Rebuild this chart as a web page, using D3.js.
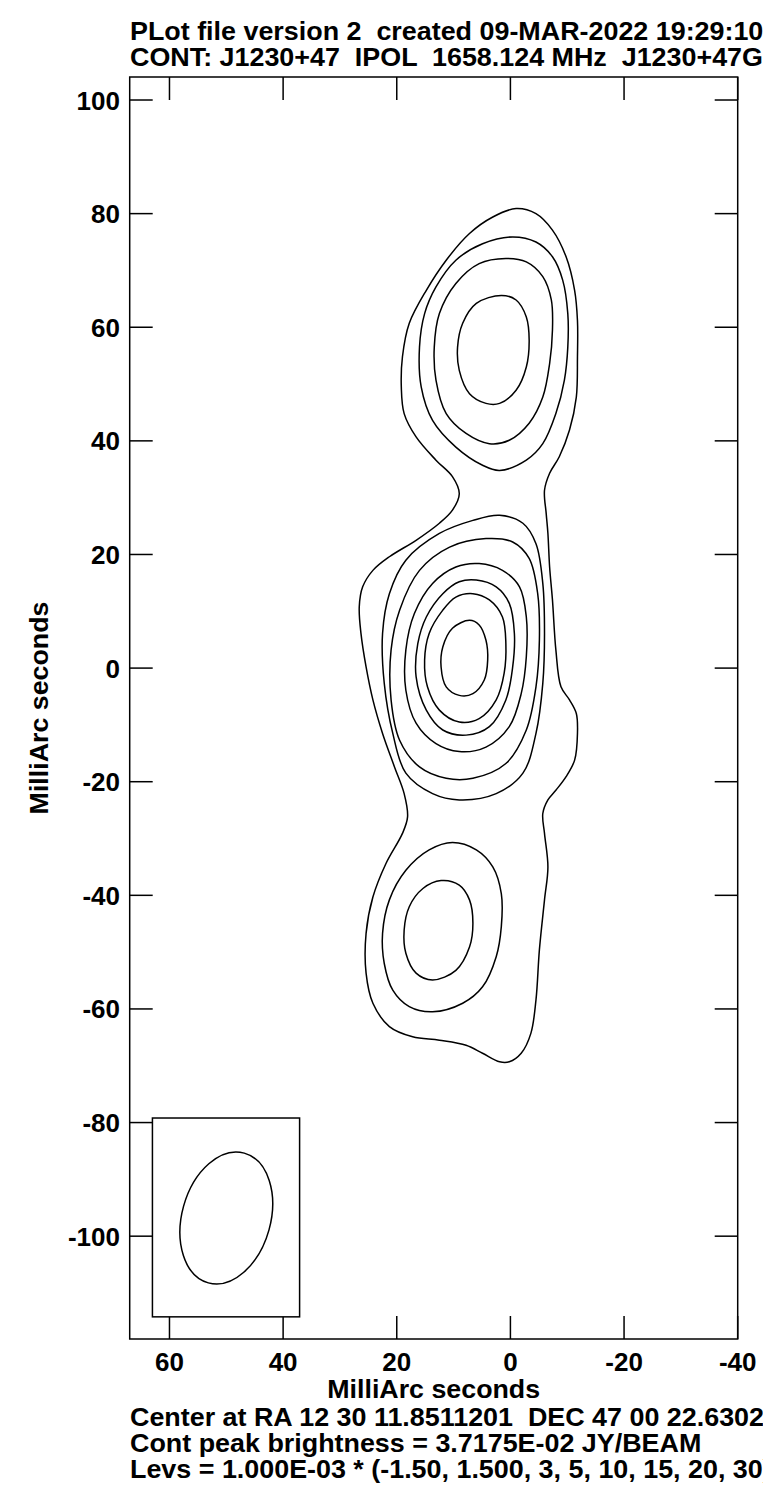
<!DOCTYPE html>
<html>
<head>
<meta charset="utf-8">
<script src="https://cdn.jsdelivr.net/npm/d3@7"></script>
<style>
  html, body { margin: 0; padding: 0; background: #fff; }
  svg text { font-family: "Liberation Sans", Arial, sans-serif; font-weight: bold; fill: #000; white-space: pre; }
</style>
</head>
<body>
<div id="chart"></div>
<script>
// ---------- data (milliarcseconds, RA offset increases to the left) ----------
const titleLines = [
  "PLot file version 2  created 09-MAR-2022 19:29:10",
  "CONT: J1230+47  IPOL  1658.124 MHz  J1230+47G"
];
const footerLines = [
  "Center at RA 12 30 11.8511201  DEC 47 00 22.6302",
  "Cont peak brightness = 3.7175E-02 JY/BEAM",
  "Levs = 1.000E-03 * (-1.50, 1.500, 3, 5, 10, 15, 20, 30)"
];
const axisLabel = "MilliArc seconds";
const xDomain = [67.0, -40.0];
const yDomain = [-118.1, 104.05];
const xTicks = [60, 40, 20, 0, -20, -40];
const yTicks = [100, 80, 60, 40, 20, 0, -20, -40, -60, -80, -100];

// contour levels in mJy/beam
const levels = [-1.5, 1.5, 3, 5, 10, 15, 20, 30];

// traced contours [RA offset, Dec offset]
const envelope1p5 = [
  [-1.0,80.9],[-4.5,80.0],[-7.4,77.1],[-9.8,72.4],[-11.3,66.5],[-11.8,61.2],[-11.8,54.8],[-11.6,47.7],
  [-10.4,41.9],[-8.6,37.2],[-6.9,34.3],[-6.0,31.3],[-6.3,27.2],[-6.6,23.7],[-6.9,17.8],[-7.4,12.0],
  [-8.0,3.2],[-8.9,-3.3],[-10.4,-5.6],[-11.6,-8.0],[-11.8,-11.5],[-11.3,-16.2],[-9.8,-19.1],[-8.0,-21.5],
  [-6.6,-23.2],[-5.7,-25.6],[-6.0,-29.1],[-6.6,-35.0],[-6.0,-40.8],[-5.1,-49.6],[-4.5,-58.4],[-3.6,-64.3],
  [-1.9,-67.8],[0.2,-69.3],[1.9,-69.3],[4.9,-67.8],[7.8,-66.4],[12.5,-65.5],[17.2,-64.9],[21.3,-63.1],
  [24.2,-59.0],[25.4,-53.7],[25.4,-46.7],[24.2,-40.3],[21.9,-34.4],[19.0,-29.1],[18.1,-26.2],[18.7,-22.1],
  [20.4,-17.4],[22.5,-11.5],[24.2,-5.6],[25.4,0.2],[26.3,6.1],[26.6,10.8],[26.0,14.3],[24.2,17.2],
  [21.3,19.6],[16.6,22.5],[12.5,25.5],[10.2,27.8],[9.0,30.7],[10.2,33.7],[13.1,36.6],[16.6,40.7],
  [18.7,44.8],[19.2,49.5],[19.0,54.8],[17.8,60.7],[14.8,66.5],[11.3,71.8],[7.2,76.5],[3.1,79.4]
];
const north3 = [
  [-0.4,75.9],[-4.5,75.0],[-7.4,72.4],[-9.2,68.3],[-10.1,62.4],[-10.1,56.5],[-9.5,50.7],[-8.0,44.8],
  [-5.7,39.5],[-2.8,36.6],[1.9,34.8],[4.9,35.7],[9.6,38.9],[13.7,43.6],[15.7,49.5],[16.0,56.5],
  [15.1,62.4],[13.1,67.1],[9.6,71.8],[4.9,74.7]
];
const north5 = [
  [0.8,72.1],[-2.8,71.5],[-5.7,68.9],[-7.2,64.8],[-7.4,59.5],[-6.9,53.6],[-5.7,47.7],[-3.3,43.1],
  [0.2,40.1],[3.7,39.5],[7.8,41.3],[11.3,44.8],[13.1,50.7],[13.4,56.5],[12.5,62.4],[9.6,67.7],[5.5,71.2]
];
const north10 = [
  [1.6,65.6],[-1.0,64.8],[-2.8,61.8],[-3.3,57.7],[-2.8,53.0],[-1.0,48.9],[1.9,46.6],[4.3,46.6],
  [7.2,48.3],[9.0,52.4],[9.3,56.5],[8.4,60.7],[6.0,64.2]
];
const core3 = [
  [1.9,26.9],[-2.2,25.5],[-4.5,21.9],[-5.7,14.9],[-6.0,6.1],[-5.7,-2.7],[-4.5,-11.5],[-2.2,-18.5],
  [2.5,-22.1],[9.0,-23.2],[13.7,-22.1],[18.4,-18.5],[20.7,-11.5],[22.2,-2.7],[22.5,6.1],[21.3,13.1],
  [18.4,19.0],[12.5,23.7],[6.6,26.0]
];
const core5 = [
  [4.3,22.8],[-0.4,22.2],[-3.3,19.3],[-4.8,13.1],[-5.1,4.9],[-4.5,-3.3],[-2.8,-10.9],[0.8,-16.8],
  [6.6,-19.4],[11.3,-19.4],[16.0,-17.4],[19.5,-12.7],[21.0,-5.6],[21.0,3.2],[19.5,10.2],[16.0,17.2],[10.7,21.3]
];
const core10 = [
  [5.5,18.4],[1.4,17.2],[-1.6,14.3],[-2.8,9.0],[-2.8,2.0],[-1.9,-4.5],[0.2,-10.3],[4.3,-13.9],
  [9.0,-14.7],[13.1,-13.3],[16.6,-9.7],[18.4,-3.9],[18.4,3.2],[16.9,9.6],[13.7,14.9],[9.6,17.8]
];
const core15 = [
  [6.0,15.5],[2.5,14.3],[0.2,11.4],[-0.7,6.1],[-0.4,0.2],[0.8,-5.6],[3.7,-10.3],[7.8,-11.8],
  [11.9,-10.9],[14.8,-7.4],[16.6,-1.5],[16.3,4.3],[14.8,9.0],[11.9,13.1],[9.0,15.2]
];
const core20 = [
  [6.6,13.1],[3.7,12.0],[1.4,9.0],[0.8,4.3],[1.1,-0.9],[2.5,-5.6],[5.5,-8.9],[9.0,-9.5],
  [12.5,-7.4],[14.6,-3.3],[15.1,1.4],[14.3,6.1],[11.9,10.2],[9.6,12.5]
];
const core30 = [
  [7.2,8.4],[5.5,7.6],[4.3,4.9],[4.0,1.4],[4.6,-2.1],[6.6,-4.5],[9.0,-4.8],[11.3,-3.3],
  [12.2,0.2],[11.9,3.7],[10.2,7.0]
];
const south3 = [
  [10.2,-30.7],[6.0,-32.0],[3.1,-35.0],[1.6,-39.7],[1.6,-45.5],[2.5,-50.8],[4.9,-56.1],[8.4,-59.0],
  [13.7,-60.5],[17.8,-59.6],[20.7,-56.7],[22.2,-52.0],[22.5,-46.7],[21.3,-40.8],[18.4,-35.6],[14.3,-32.0]
];
const south5 = [
  [12.2,-37.4],[9.0,-38.2],[7.2,-40.8],[6.6,-44.9],[7.2,-49.1],[9.6,-53.2],[13.7,-54.9],[16.6,-53.7],
  [18.4,-50.2],[18.7,-46.1],[17.8,-42.0],[15.4,-38.8]
];
const contourSet = [envelope1p5, north3, north5, north10, core3, core5, core10, core15, core20, core30, south3, south5];

// restoring beam (FWHM, mas; PA deg east of north) and its box
const beamCenter = [50.0, -96.8];
const beamMajor = 23.7, beamMinor = 15.6, beamPA = -15.5;
const beamBoxX = [63.0, 37.1];
const beamBoxY = [-114.2, -79.2];

// ---------- drawing ----------
const W = 763, H = 1500;
const svg = d3.select("#chart").append("svg").attr("width", W).attr("height", H);
const x = d3.scaleLinear().domain(xDomain).range([129.7, 737.7]);
const y = d3.scaleLinear().domain(yDomain).range([1339, 77]);
const fs = 26, fsBlock = 25, tickLen = 23, sw = 1.5;

// horizontally widen text glyphs to match the plot font's wider set
function widen(sel, k) {
  sel.each(function () {
    const len = this.getComputedTextLength();
    d3.select(this).attr("textLength", len * k).attr("lengthAdjust", "spacingAndGlyphs");
  });
}

// titles
svg.selectAll("text.title").data(titleLines).join("text").attr("class", "title")
  .attr("x", 130).attr("y", (d, i) => 40 + i * 26).attr("font-size", fsBlock).text(d => d)
  .call(widen, 1.075);

// contours
const line = d3.line().x(d => x(d[0])).y(d => y(d[1])).curve(d3.curveCatmullRomClosed.alpha(0.5));
svg.append("g").selectAll("path").data(contourSet).join("path")
  .attr("d", line).attr("fill", "none").attr("stroke", "#000").attr("stroke-width", sw);

// ticks (inward on all four sides)
const tg = svg.append("g").attr("stroke", "#000").attr("stroke-width", sw);
xTicks.forEach(t => {
  tg.append("line").attr("x1", x(t)).attr("x2", x(t)).attr("y1", y.range()[0]).attr("y2", y.range()[0] - tickLen);
  tg.append("line").attr("x1", x(t)).attr("x2", x(t)).attr("y1", y.range()[1]).attr("y2", y.range()[1] + tickLen);
});
yTicks.forEach(t => {
  tg.append("line").attr("y1", y(t)).attr("y2", y(t)).attr("x1", x.range()[0]).attr("x2", x.range()[0] + tickLen);
  tg.append("line").attr("y1", y(t)).attr("y2", y(t)).attr("x1", x.range()[1]).attr("x2", x.range()[1] - tickLen);
});

// frame
svg.append("rect").attr("x", x.range()[0]).attr("y", y.range()[1])
  .attr("width", x.range()[1] - x.range()[0]).attr("height", y.range()[0] - y.range()[1])
  .attr("fill", "none").attr("stroke", "#000").attr("stroke-width", sw);

// beam box + beam
svg.append("rect").attr("x", x(beamBoxX[0])).attr("y", y(beamBoxY[1]))
  .attr("width", x(beamBoxX[1]) - x(beamBoxX[0])).attr("height", y(beamBoxY[0]) - y(beamBoxY[1]))
  .attr("fill", "#fff").attr("stroke", "#000").attr("stroke-width", sw);
svg.append("ellipse")
  .attr("cx", 0).attr("cy", 0)
  .attr("rx", Math.abs(x(beamMinor / 2) - x(0))).attr("ry", Math.abs(y(beamMajor / 2) - y(0)))
  .attr("transform", `translate(${x(beamCenter[0])},${y(beamCenter[1])}) rotate(${-beamPA})`)
  .attr("fill", "none").attr("stroke", "#000").attr("stroke-width", sw);

// tick labels
svg.selectAll("text.xt").data(xTicks).join("text").attr("class", "xt")
  .attr("x", d => x(d)).attr("y", 1371).attr("text-anchor", "middle").attr("font-size", fs).text(d => d);
svg.selectAll("text.yt").data(yTicks).join("text").attr("class", "yt")
  .attr("x", 120).attr("y", d => y(d) + 9.5).attr("text-anchor", "end").attr("font-size", fs).text(d => d);

// axis labels
svg.append("text").attr("x", (x.range()[0] + x.range()[1]) / 2).attr("y", 1398)
  .attr("text-anchor", "middle").attr("font-size", fs).text(axisLabel).call(widen, 1.03);
svg.append("text").attr("transform", `translate(48,${(y.range()[0] + y.range()[1]) / 2}) rotate(-90)`)
  .attr("text-anchor", "middle").attr("font-size", fs).text(axisLabel).call(widen, 1.03);

// footer
svg.selectAll("text.foot").data(footerLines).join("text").attr("class", "foot")
  .attr("x", 130).attr("y", (d, i) => 1426 + i * 26).attr("font-size", fsBlock).text(d => d)
  .call(widen, 1.075);
</script>
</body>
</html>
